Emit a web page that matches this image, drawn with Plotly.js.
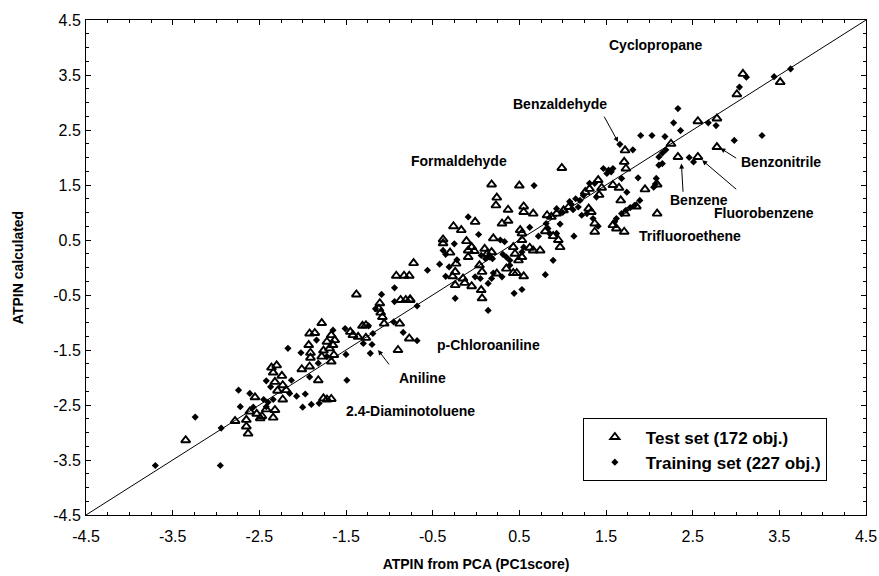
<!DOCTYPE html>
<html><head><meta charset="utf-8">
<script src="https://cdn.plot.ly/plotly-3.0.1.min.js"></script>
<style>body{margin:0;background:#fff}#chart{width:879px;height:576px}</style>
</head><body><div id="chart"></div>
<script>
// Test set (open triangles)
const testX = [-3.35,-2.78,-1.78,-1.92,-1.86,-1.72,-1.93,-1.91,-1.76,-1.78,-1.91,-1.92,-2.01,-1.82,-2.36,-2.30,-2.34,-2.24,-2.32,-2.23,-2.29,-2.19,-2.23,-2.55,-1.76,-1.72,-2.61,-2.53,-2.47,-2.42,-2.32,-2.34,-2.49,-2.65,-2.65,-2.63,
-0.92,-0.83,-0.77,-1.38,-0.87,-0.81,-0.76,-1.11,-1.12,-1.10,-1.08,-1.31,-1.27,-1.06,-0.88,-0.77,-0.90,-1.45,-1.42,-1.36,-1.27,-1.67,-1.63,-1.65,-1.69,-1.64,-1.67,-1.67,
-0.01,-0.26,-0.17,-0.38,-0.38,-0.11,-0.05,-0.09,-0.02,-0.30,0.10,0.13,-0.09,-0.23,-0.72,-0.24,-0.27,0.04,0.07,-0.15,-0.13,-0.24,-0.05,0.06,0.07,-0.76,
0.99,0.50,0.18,0.24,0.23,0.37,0.55,0.55,0.66,0.30,0.37,0.82,0.87,0.93,1.01,1.07,0.51,0.53,0.80,0.89,0.95,0.97,0.20,0.53,0.43,0.45,0.53,0.49,0.62,0.66,0.74,0.18,0.24,0.35,0.43,0.47,0.55,
1.72,1.71,1.73,1.58,1.65,1.95,1.67,1.85,1.72,1.58,1.62,1.71,1.41,1.45,1.42,1.31,1.26,1.30,1.33,1.37,1.37,
2.56,2.78,2.25,2.33,2.56,2.78,2.09,2.09,
3.08,3.01,3.51];
const testY = [-3.14,-2.79,-1.01,-1.20,-1.19,-1.35,-1.41,-1.55,-1.51,-1.62,-1.64,-1.80,-1.85,-2.05,-1.82,-1.78,-1.91,-1.97,-2.08,-2.14,-2.24,-2.23,-2.40,-2.36,-2.38,-2.40,-2.62,-2.66,-2.70,-2.58,-2.59,-2.73,-2.74,-2.77,-2.89,-3.02,
-0.15,-0.15,-0.15,-0.49,-0.59,-0.59,-0.58,-0.65,-0.75,-0.82,-0.90,-1.06,-1.05,-1.02,-1.02,-1.29,-1.50,-1.17,-1.23,-1.26,-1.28,-1.23,-1.32,-1.41,-1.47,-1.59,-1.71,-2.39,
0.83,0.75,0.68,0.51,0.44,0.48,0.37,0.31,0.30,0.27,0.34,0.25,0.19,0.07,0.08,-0.08,-0.16,0.04,-0.08,-0.20,-0.28,-0.32,-0.34,-0.41,-0.56,-0.59,
1.81,1.49,1.51,1.27,1.13,1.05,1.11,1.01,0.98,0.80,0.85,0.95,0.92,0.98,1.04,1.10,0.68,0.62,0.66,0.57,0.50,0.37,0.53,0.50,0.37,0.25,0.19,0.13,0.36,0.31,0.31,0.28,-0.11,-0.02,-0.10,-0.10,-0.16,
2.13,1.92,1.80,1.50,1.45,1.42,1.22,1.11,0.98,0.77,0.71,0.65,1.59,1.45,1.32,1.43,1.37,1.07,1.01,0.80,0.65,
2.66,2.71,2.25,2.01,2.01,2.19,1.51,0.98,
3.52,3.15,3.37];
// Training set (filled diamonds)
const trainX = [-3.70,-2.95,-3.24,-2.94,-2.74,-2.72,-1.84,-2.17,-2.02,-1.72,-1.82,-1.92,-2.42,-2.13,-2.37,-2.15,-2.07,-1.97,-2.61,-2.45,-2.40,-2.34,-1.81,-1.90,-2.00,-2.57,-2.42,
-0.94,-1.09,-0.94,-1.16,-1.24,-0.95,-0.84,-1.51,-1.19,-1.30,-1.20,-1.22,-1.65,-1.50,-1.49,
-0.09,0.03,-0.25,-0.38,-0.35,0.06,0.11,0.16,-0.22,-0.42,-0.56,-0.31,-0.35,-0.01,0.05,0.14,0.14,-0.24,-0.68,-0.68,
0.67,0.93,1.00,0.97,0.62,0.81,0.83,0.85,0.93,0.72,0.28,0.33,0.55,0.53,0.35,0.39,0.31,0.19,0.89,0.80,0.20,0.18,0.39,0.30,0.44,0.53,
1.66,1.81,1.90,1.87,1.47,1.53,1.56,1.51,1.58,1.68,1.74,1.89,1.83,1.78,1.73,1.68,1.62,1.60,1.37,1.39,1.31,1.24,1.20,1.28,1.35,1.41,1.13,1.22,1.10,1.15,1.12,1.18,1.08,
2.33,2.28,2.36,2.68,2.77,2.03,2.18,2.19,2.15,2.11,2.15,2.11,2.46,2.51,2.07,2.05,2.08,
3.12,3.04,3.44,3.63,2.98,3.30];
const trainY = [-3.60,-3.60,-2.72,-2.92,-2.23,-2.53,-1.32,-1.47,-1.55,-1.62,-1.74,-1.99,-2.06,-2.05,-2.17,-2.29,-2.34,-2.30,-2.29,-2.40,-2.45,-2.40,-2.47,-2.49,-2.54,-2.54,-2.53,
-0.37,-0.49,-0.62,-0.75,-1.06,-0.99,-1.18,-1.11,-1.20,-1.38,-1.40,-1.56,-1.14,-1.58,-2.05,
0.92,0.60,0.43,0.31,0.24,0.22,0.16,0.19,0.14,0.06,-0.05,0.01,-0.16,-0.17,-0.20,-0.29,-0.78,-0.56,-0.70,-1.33,
1.49,1.07,1.00,0.79,0.73,0.80,0.71,0.62,0.62,0.57,0.50,0.47,0.37,0.28,0.19,0.13,0.24,0.16,0.13,-0.13,-0.10,-0.20,0.04,-0.17,-0.47,-0.40,
2.24,2.14,2.40,1.63,1.80,1.77,1.74,1.71,1.80,1.62,1.37,1.22,1.13,1.09,1.04,0.98,0.89,0.83,1.53,1.28,1.53,1.31,1.22,0.98,0.89,0.75,0.57,0.95,1.15,1.25,1.05,1.10,1.20,
2.89,2.63,2.49,2.63,2.58,2.40,2.38,2.14,2.08,2.01,1.89,1.86,2.00,1.92,1.52,1.46,1.62,
3.46,3.28,3.47,3.61,2.31,2.40];
// Line of identity
const diagX = [-4.5, 4.5];
const diagY = [-4.5, 4.5];
const tickVals = [-4.5,-3.5,-2.5,-1.5,-0.5,0.5,1.5,2.5,3.5,4.5];
const tickText = ['-4.5','-3.5','-2.5','-1.5','-0.5','0.5','1.5','2.5','3.5','4.5'];
// Compound labels
const labelText = ['Cyclopropane','Benzaldehyde','Formaldehyde','Aniline','p-Chloroaniline','2.4-Diaminotoluene','Trifluoroethene','Benzene','Fluorobenzene','Benzonitrile'];
const labelX = [2.08,0.97,-0.20,-0.62,0.14,-0.76,2.47,2.57,3.32,3.52];
const labelY = [4.05,2.97,1.93,-2.01,-1.41,-2.61,0.57,1.22,1.00,1.91];
// Arrows: tail -> head
const arrowTailX = [1.47,-0.99,2.39,3.02,3.02];
const arrowTailY = [2.77,-1.79,1.35,1.40,1.97];
const arrowHeadX = [1.64,-1.13,2.37,2.61,2.82];
const arrowHeadY = [2.28,-1.50,1.89,1.95,2.17];

const FONT = 'Liberation Sans, Arial, sans-serif';
const traces = [
  {x: diagX, y: diagY, mode: 'lines', line: {color: '#000', width: 1}, showlegend: false, hoverinfo: 'skip'},
  {x: testX, y: testY, mode: 'markers', name: 'Test set (172 obj.)',
   marker: {symbol: 'triangle-up-open', size: 8, color: '#000', line: {width: 1.9, color: '#000'}}},
  {x: trainX, y: trainY, mode: 'markers', name: 'Training set (227 obj.)',
   marker: {symbol: 'diamond', size: 5.5, color: '#000', line: {width: 0}}}
];
const annotations = [];
for (let i = 0; i < labelText.length; i++) {
  annotations.push({x: labelX[i], y: labelY[i], xref: 'x', yref: 'y', text: labelText[i], showarrow: false,
    font: {family: FONT, size: 14, color: '#000', weight: 'bold'}});
}
for (let i = 0; i < arrowTailX.length; i++) {
  annotations.push({x: arrowHeadX[i], y: arrowHeadY[i], ax: arrowTailX[i], ay: arrowTailY[i], xref: 'x', yref: 'y', axref: 'x', ayref: 'y',
    text: '', showarrow: true, arrowhead: 2, arrowsize: 1, arrowwidth: 1, arrowcolor: '#000'});
}
const axisCommon = {
  range: [-4.5, 4.5], tickmode: 'array', tickvals: tickVals, ticktext: tickText,
  ticks: 'inside', ticklen: 5, tickcolor: '#000', tickwidth: 1,
  showline: true, linecolor: '#000', linewidth: 1, mirror: 'ticks',
  showgrid: false, zeroline: false,
  tickfont: {family: FONT, size: 16, color: '#000'},
  minor: {dtick: 0.25, tick0: -4.5, ticks: 'inside', ticklen: 3, tickcolor: '#000', showgrid: false}
};
const layout = {
  width: 879, height: 576,
  margin: {l: 86, r: 13, t: 20, b: 61},
  paper_bgcolor: '#fff', plot_bgcolor: '#fff',
  font: {family: FONT, color: '#000'},
  xaxis: Object.assign({}, axisCommon, {ticklabelstandoff: 7,
    title: {text: 'ATPIN from PCA (PC1score)', standoff: 14, font: {family: FONT, size: 14, weight: 'bold', color: '#000'}}}),
  yaxis: Object.assign({}, axisCommon, {ticklabelstandoff: 1,
    title: {text: 'ATPIN calculated', standoff: 26, font: {family: FONT, size: 14, weight: 'bold', color: '#000'}}}),
  legend: {x: 0.637, y: 0.195, xanchor: 'left', yanchor: 'top', bgcolor: '#fff', bordercolor: '#000', borderwidth: 1,
    font: {family: FONT, size: 17, weight: 'bold', color: '#000'}, itemwidth: 52, tracegroupgap: 0},
  annotations: annotations,
  showlegend: true
};
Plotly.newPlot('chart', traces, layout, {displayModeBar: false, staticPlot: true});
</script></body></html>
